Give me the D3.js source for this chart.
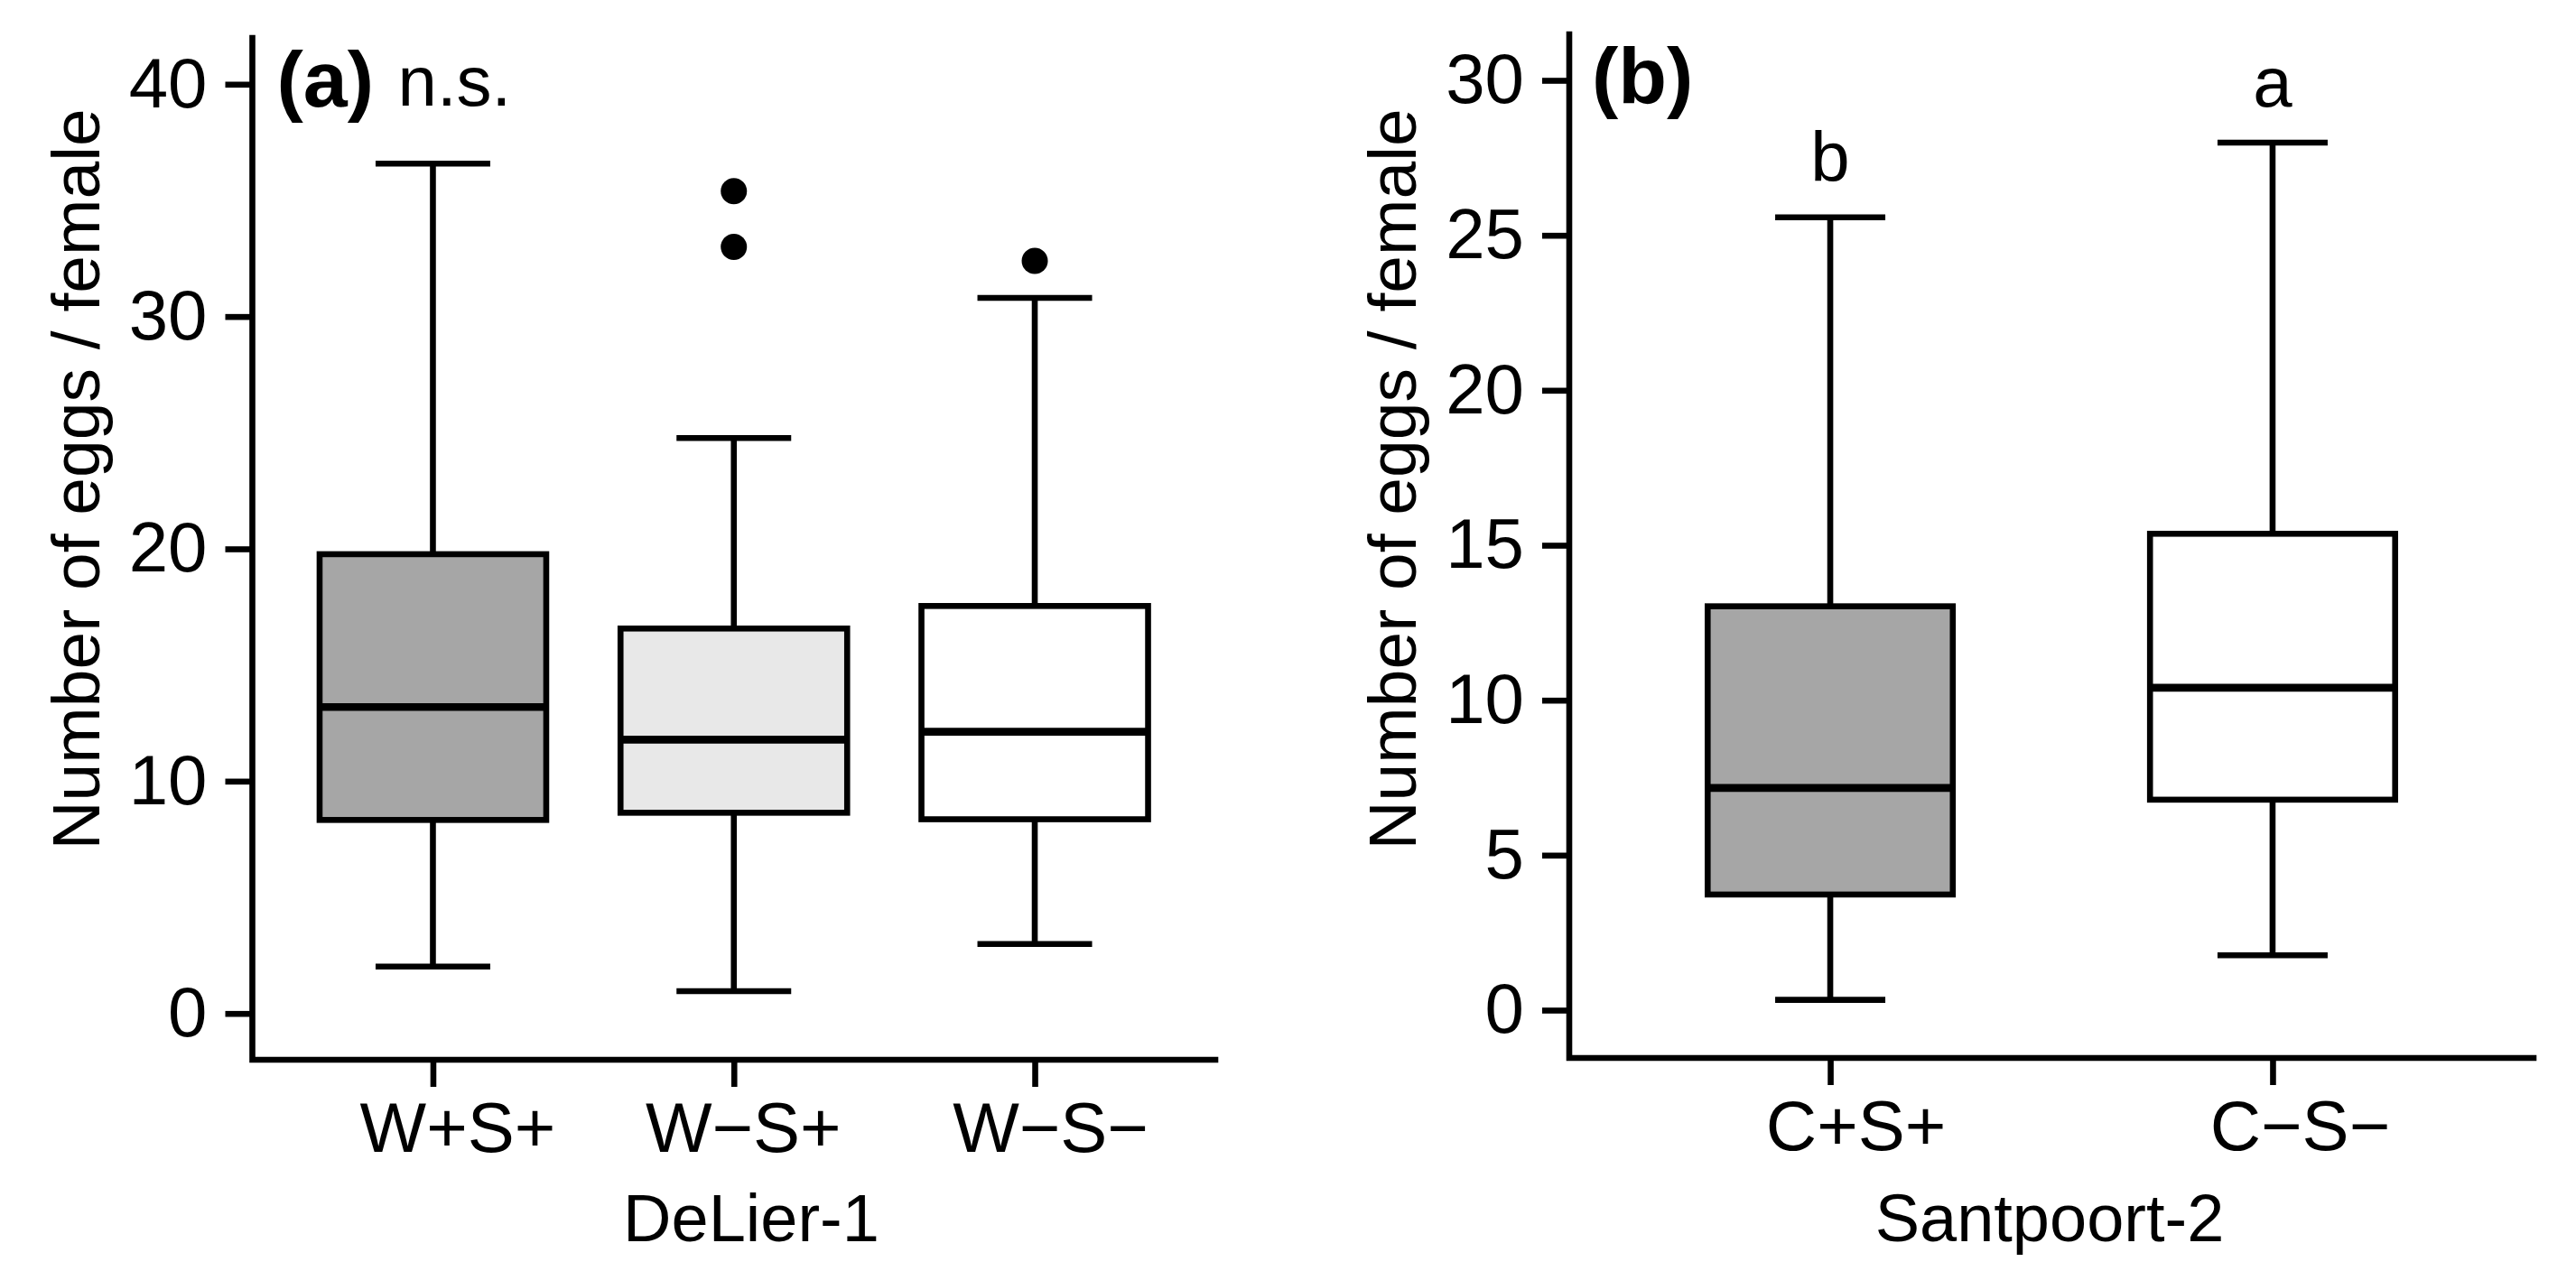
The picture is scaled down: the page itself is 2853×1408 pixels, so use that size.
<!DOCTYPE html>
<html>
<head>
<meta charset="utf-8">
<script src="https://cdn.jsdelivr.net/npm/d3@7"></script>
<style>
  body { margin: 0; background: #fff; }
  text { font-family: "Liberation Sans", Arial, sans-serif; }
</style>
</head>
<body>
<div id="chart"></div>
<script>

var w = 2853,
    h = 1408;

// panel (a) DeLier-1
var catsA = ["W+S+", "W\u2212S+", "W\u2212S\u2212"],
    lowA = [2.02, 0.96, 2.99],
    q1A = [8.33, 8.64, 8.36],
    medA = [13.19, 11.79, 12.13],
    q3A = [19.77, 16.57, 17.54],
    highA = [36.58, 24.77, 30.80],
    outA = [[], [35.40, 33.0], [32.40]],
    fillA = ["#a6a6a6", "#e8e8e8", "#ffffff"],
    ticksA = [0, 10, 20, 30, 40];

// panel (b) Santpoort-2
var catsB = ["C+S+", "C\u2212S\u2212"],
    lowB = [0.33, 1.77],
    q1B = [3.73, 6.79],
    medB = [7.17, 10.40],
    q3B = [13.03, 15.37],
    highB = [25.58, 27.99],
    outB = [[], []],
    fillB = ["#a6a6a6", "#ffffff"],
    lettersB = ["b", "a"],
    ticksB = [0, 5, 10, 15, 20, 25, 30];

var svg = d3.select("#chart").append("svg")
    .attr("width", w)
    .attr("height", h);

var lw = 6.6, medLw = 8.7, fs = 78;

function drawPanel(p) {
  var g = svg.append("g");

  var x = d3.scaleLinear()
      .domain(p.xDomain)
      .range([p.left, p.right]);

  var y = d3.scaleLinear()
      .domain(p.yDomain)
      .range(p.yRange);

  var data = p.cats.map(function(c, i) {
    return {cat: c, pos: i + 1, low: p.low[i], q1: p.q1[i], med: p.med[i],
            q3: p.q3[i], high: p.high[i], out: p.out[i], fill: p.fill[i]};
  });

  // y axis
  var ya = g.append("g")
      .attr("transform", "translate(" + p.left + ",0)")
      .call(d3.axisLeft(y).tickValues(p.ticks).tickSize(30).tickPadding(20).tickSizeOuter(0));
  ya.select(".domain").remove();
  ya.selectAll(".tick line").attr("stroke", "#000").attr("stroke-width", lw);
  ya.selectAll(".tick text").attr("font-size", fs).attr("fill", "#000")
      .attr("font-family", "Liberation Sans, Arial, sans-serif");

  // x axis
  var xa = g.append("g")
      .attr("transform", "translate(0," + p.bottom + ")")
      .call(d3.axisBottom(x).tickValues(data.map(function(d) { return d.pos; }))
        .tickFormat(function(d) { return p.cats[d - 1]; })
        .tickSize(30).tickPadding(17).tickSizeOuter(0));
  xa.select(".domain").remove();
  xa.selectAll(".tick line").attr("stroke", "#000").attr("stroke-width", lw);
  xa.selectAll(".tick text").attr("font-size", fs).attr("fill", "#000")
      .attr("font-family", "Liberation Sans, Arial, sans-serif")
      .attr("dx", function(d, i) { return p.catDx[i]; });

  // L shaped frame
  g.append("path")
      .attr("d", "M" + p.left + "," + p.top + "V" + p.bottom + "H" + p.right)
      .attr("fill", "none")
      .attr("stroke", "#000")
      .attr("stroke-width", lw)
      .attr("stroke-linecap", "square");

  var box = g.selectAll(".box")
      .data(data)
    .enter().append("g")
      .attr("class", "box");

  // whiskers
  box.append("line")
      .attr("x1", function(d) { return x(d.pos); })
      .attr("x2", function(d) { return x(d.pos); })
      .attr("y1", function(d) { return y(d.high); })
      .attr("y2", function(d) { return y(d.q3); });
  box.append("line")
      .attr("x1", function(d) { return x(d.pos); })
      .attr("x2", function(d) { return x(d.pos); })
      .attr("y1", function(d) { return y(d.q1); })
      .attr("y2", function(d) { return y(d.low); });
  box.append("line")
      .attr("x1", function(d) { return x(d.pos) - p.capW / 2; })
      .attr("x2", function(d) { return x(d.pos) + p.capW / 2; })
      .attr("y1", function(d) { return y(d.high); })
      .attr("y2", function(d) { return y(d.high); });
  box.append("line")
      .attr("x1", function(d) { return x(d.pos) - p.capW / 2; })
      .attr("x2", function(d) { return x(d.pos) + p.capW / 2; })
      .attr("y1", function(d) { return y(d.low); })
      .attr("y2", function(d) { return y(d.low); });
  box.selectAll("line")
      .attr("stroke", "#000")
      .attr("stroke-width", lw);

  box.append("rect")
      .attr("x", function(d) { return x(d.pos) - p.boxW / 2; })
      .attr("width", p.boxW)
      .attr("y", function(d) { return y(d.q3); })
      .attr("height", function(d) { return y(d.q1) - y(d.q3); })
      .attr("fill", function(d) { return d.fill; })
      .attr("stroke", "#000")
      .attr("stroke-width", lw);

  box.append("line")
      .attr("x1", function(d) { return x(d.pos) - p.boxW / 2; })
      .attr("x2", function(d) { return x(d.pos) + p.boxW / 2; })
      .attr("y1", function(d) { return y(d.med); })
      .attr("y2", function(d) { return y(d.med); })
      .attr("stroke", "#000")
      .attr("stroke-width", medLw);

  // outliers
  box.selectAll("circle")
      .data(function(d) { return d.out.map(function(v) { return {pos: d.pos, v: v}; }); })
    .enter().append("circle")
      .attr("cx", function(d) { return x(d.pos); })
      .attr("cy", function(d) { return y(d.v); })
      .attr("r", 14.5)
      .attr("fill", "#000");

  // significance letters
  if (p.letters) {
    box.append("text")
        .attr("x", function(d) { return x(d.pos); })
        .attr("y", function(d) { return y(d.high) - 40; })
        .attr("text-anchor", "middle")
        .attr("font-size", fs)
        .text(function(d, i) { return p.letters[i]; });
  }

  // panel label
  var lab = g.append("text")
      .attr("x", p.left + p.labelDx)
      .attr("y", p.top + 76)
      .attr("font-size", 88)
      .attr("font-weight", "bold")
      .text(p.label);
  if (p.note) {
    g.append("text")
        .attr("x", p.left + 161)
        .attr("y", p.top + 75)
        .attr("font-size", fs)
        .text(p.note);
  }

  // axis titles
  g.append("text")
      .attr("transform", "translate(" + (p.left - 170) + ",531)rotate(-90)")
      .attr("text-anchor", "middle")
      .attr("font-size", 75)
      .text("Number of eggs / female");

  g.append("text")
      .attr("x", p.titleX)
      .attr("y", 1375)
      .attr("text-anchor", "middle")
      .attr("font-size", 74)
      .text(p.title);
}

drawPanel({
  cats: catsA, low: lowA, q1: q1A, med: medA, q3: q3A, high: highA, out: outA,
  fill: fillA, ticks: ticksA, catDx: [27, 10, 17],
  xDomain: [0.4, 3.6], left: 279.5, right: 1346,
  yDomain: [0, 40], yRange: [1122.7, 93.3], top: 42, bottom: 1174,
  boxW: 251, capW: 127,
  label: "(a)", labelDx: 27, note: "n.s.", title: "DeLier-1", titleX: 832
});

drawPanel({
  cats: catsB, low: lowB, q1: q1B, med: medB, q3: q3B, high: highB, out: outB,
  fill: fillB, ticks: ticksB, letters: lettersB, catDx: [28, 30],
  xDomain: [0.41, 2.59], left: 1738, right: 2806,
  yDomain: [0, 30], yRange: [1119, 89], top: 38, bottom: 1172,
  boxW: 271.5, capW: 122,
  label: "(b)", labelDx: 25, title: "Santpoort-2", titleX: 2270
});

</script>
</body>
</html>
